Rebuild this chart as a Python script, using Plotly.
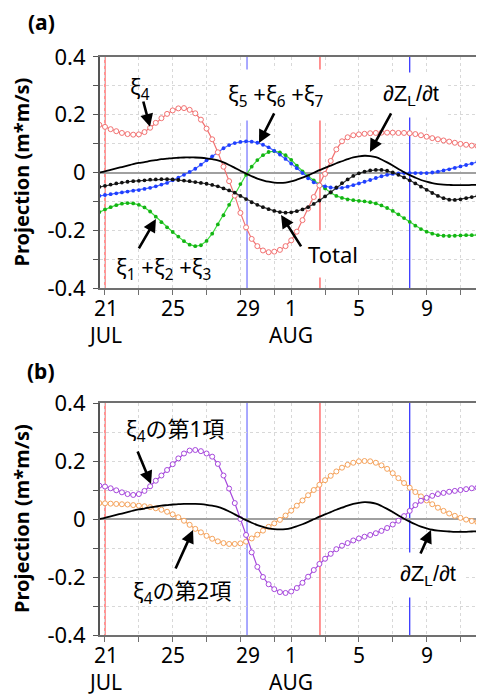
import numpy as np
import plotly.graph_objects as go

# time axis: days after 21 JUL 00:00, sampled every 8 hours
days = [round(-1/3 + k/3, 3) for k in range(69)]

xi4 = [0.165,0.158,0.150,0.143,0.137,0.133,0.131,0.132,0.140,0.155,0.172,0.188,0.203,0.215,0.222,0.223,
       0.217,0.205,0.183,0.152,0.115,0.070,0.020,-0.030,-0.080,-0.140,-0.190,-0.230,-0.255,-0.270,-0.276,
       -0.274,-0.268,-0.255,-0.235,-0.205,-0.165,-0.125,-0.085,-0.045,-0.005,0.040,0.080,0.108,0.122,0.129,
       0.132,0.134,0.136,0.137,0.138,0.138,0.138,0.137,0.137,0.136,0.133,0.129,0.124,0.119,0.115,0.111,
       0.107,0.103,0.099,0.096,0.093,0.092,0.094]
xi567 = [-0.081,-0.078,-0.075,-0.072,-0.069,-0.066,-0.063,-0.061,-0.057,-0.053,-0.048,-0.042,-0.036,-0.027,
         -0.018,-0.008,0.002,0.013,0.027,0.042,0.056,0.071,0.084,0.095,0.102,0.106,0.108,0.107,0.103,0.096,
         0.087,0.075,0.062,0.047,0.031,0.015,-0.002,-0.020,-0.034,-0.042,-0.048,-0.052,-0.054,-0.053,-0.049,
         -0.044,-0.038,-0.032,-0.026,-0.019,-0.013,-0.008,-0.005,-0.003,-0.002,-0.002,-0.002,-0.002,-0.002,
         0.000,0.003,0.007,0.011,0.016,0.021,0.026,0.031,0.037,0.042]
xi123 = [-0.137,-0.128,-0.120,-0.113,-0.108,-0.106,-0.107,-0.112,-0.121,-0.135,-0.153,-0.172,-0.190,-0.206,
         -0.222,-0.238,-0.250,-0.255,-0.252,-0.237,-0.212,-0.180,-0.148,-0.112,-0.076,-0.040,-0.008,0.020,
         0.043,0.060,0.071,0.074,0.070,0.060,0.044,0.024,0.004,-0.013,-0.027,-0.040,-0.055,-0.070,-0.081,
         -0.088,-0.093,-0.096,-0.098,-0.100,-0.103,-0.107,-0.114,-0.123,-0.133,-0.145,-0.158,-0.171,-0.184,
         -0.196,-0.205,-0.212,-0.217,-0.219,-0.220,-0.219,-0.218,-0.217,-0.217,-0.216,-0.216]
total = [-0.050,-0.046,-0.042,-0.038,-0.035,-0.032,-0.030,-0.029,-0.027,-0.025,-0.024,-0.023,-0.023,-0.024,
         -0.026,-0.028,-0.030,-0.033,-0.036,-0.039,-0.043,-0.048,-0.055,-0.062,-0.070,-0.081,-0.092,-0.103,
         -0.112,-0.120,-0.127,-0.133,-0.137,-0.139,-0.138,-0.134,-0.128,-0.120,-0.109,-0.097,-0.083,-0.068,
         -0.052,-0.037,-0.024,-0.012,-0.003,0.003,0.007,0.009,0.009,0.006,0.000,-0.008,-0.017,-0.027,-0.038,
         -0.049,-0.060,-0.071,-0.081,-0.089,-0.094,-0.095,-0.093,-0.089,-0.085,-0.081,-0.078]
dzdt = [0.000,0.004,0.009,0.014,0.019,0.024,0.029,0.033,0.036,0.040,0.043,0.046,0.048,0.050,0.051,0.052,
        0.052,0.052,0.051,0.049,0.046,0.042,0.035,0.026,0.016,0.006,-0.004,-0.013,-0.021,-0.027,-0.032,
        -0.035,-0.036,-0.035,-0.031,-0.025,-0.018,-0.010,-0.001,0.008,0.016,0.024,0.032,0.039,0.046,0.052,
        0.056,0.058,0.057,0.053,0.045,0.035,0.024,0.012,0.001,-0.009,-0.018,-0.026,-0.032,-0.037,-0.040,
        -0.042,-0.043,-0.044,-0.044,-0.044,-0.043,-0.043,-0.043]
xi4_term1 = [0.115,0.112,0.106,0.099,0.092,0.086,0.083,0.086,0.097,0.113,0.132,0.150,0.169,0.189,0.209,0.226,
             0.236,0.238,0.234,0.226,0.215,0.190,0.150,0.105,0.055,0.000,-0.055,-0.115,-0.165,-0.200,-0.225,
             -0.242,-0.252,-0.255,-0.250,-0.238,-0.220,-0.199,-0.176,-0.155,-0.137,-0.120,-0.104,-0.092,-0.083,
             -0.074,-0.067,-0.061,-0.055,-0.049,-0.041,-0.031,-0.019,-0.006,0.010,0.028,0.048,0.063,0.073,
             0.080,0.086,0.090,0.094,0.097,0.100,0.103,0.106,0.108,0.110]
xi4_term2 = [0.055,0.054,0.053,0.052,0.051,0.050,0.048,0.046,0.044,0.041,0.037,0.032,0.025,0.016,0.006,-0.006,
             -0.020,-0.034,-0.046,-0.058,-0.068,-0.077,-0.083,-0.086,-0.086,-0.084,-0.078,-0.067,-0.054,-0.040,
             -0.027,-0.015,-0.003,0.012,0.029,0.046,0.064,0.082,0.100,0.118,0.134,0.149,0.164,0.177,0.187,
             0.194,0.199,0.200,0.199,0.194,0.185,0.173,0.158,0.141,0.124,0.108,0.093,0.078,0.064,0.051,0.039,
             0.028,0.019,0.011,0.004,-0.002,-0.007,-0.011,-0.014]

x_ticks = [0, 2, 4, 6, 8, 10, 11, 13, 15, 17, 19, 21]
x_label_pos = [0, 4, 8.45, 11, 15, 19]
x_label_text = ["21<br>JUL", "25", "29", "1<br>AUG", "5", "9"]
y_ticks = [0.4, 0.2, 0, -0.2, -0.4]
y_tick_text = ["0.4", "0.2", "0", "-0.2", "-0.4"]
red_lines = [0.0, 12.7]
blue_lines = [8.39, 18.0]

FONT = "'Noto Sans', 'Noto Sans CJK JP', sans-serif"
SYM_FONT = "'Liberation Sans', 'DejaVu Sans', sans-serif"

fig = go.Figure()

def sc(y, name, color, lcolor, open_m, xa, ya, size=5):
    fig.add_trace(go.Scatter(
        x=days, y=y, name=name, mode="lines+markers", xaxis=xa, yaxis=ya,
        line=dict(color=lcolor, width=1.2),
        marker=dict(size=size, color="white" if open_m else color,
                    symbol="circle", line=dict(color=color, width=1 if open_m else 0)),
        showlegend=False))

# panel a
sc(xi123, "xi1+xi2+xi3", "#14b414", "#3ddc3d", False, "x", "y", size=3.8)
sc(xi567, "xi5+xi6+xi7", "#1f3fff", "#4a63ff", False, "x", "y", size=3.8)
sc(xi4, "xi4", "#f27272", "#f27272", True, "x", "y", size=5)
sc(total, "Total", "#111111", "#333333", False, "x", "y", size=3.8)
fig.add_trace(go.Scatter(x=days, y=dzdt, mode="lines", line=dict(color="black", width=1.8, shape="spline"),
                         xaxis="x", yaxis="y", showlegend=False))
# panel b
sc(xi4_term2, "xi4 term2", "#f5a35c", "#f5a35c", True, "x2", "y2", size=5)
sc(xi4_term1, "xi4 term1", "#a647dc", "#a647dc", True, "x2", "y2", size=5)
fig.add_trace(go.Scatter(x=days, y=dzdt, mode="lines", line=dict(color="black", width=1.8, shape="spline"),
                         xaxis="x2", yaxis="y2", showlegend=False))

xr = [-0.295, 22.39]

def xaxis(anchor):
    return dict(range=xr, anchor=anchor, automargin=False, showline=True, linecolor="#707070",
                linewidth=2, mirror=True, tickmode="array", tickvals=x_ticks, ticks="outside",
                ticklen=5, tickcolor="#707070", showticklabels=False,
                showgrid=True, gridcolor="#d8d8d8", griddash="dot", gridwidth=1, zeroline=False)

def yaxis(anchor, dom):
    return dict(range=[-0.4, 0.4], domain=dom, anchor=anchor, automargin=False, showline=True,
                linecolor="#555555", linewidth=2, tickmode="array", tickvals=y_ticks,
                ticktext=y_tick_text, ticks="outside", ticklen=5, tickcolor="#555555",
                showgrid=True, gridcolor="#d8d8d8", griddash="dot",
                zeroline=True, zerolinecolor="#a0a0a0", zerolinewidth=2,
                tickfont=dict(family=FONT, size=22, color="black"), ticklabelstandoff=3,
                minor=dict(tickmode="array", tickvals=[0.3, 0.1, -0.1, -0.3], ticks="outside", ticklen=5,
                           tickcolor="#555555", showgrid=True, gridcolor="#d8d8d8", griddash="dot"))

# the page body has an 8px margin, so the figure is sized to end at the window edge
fig.update_layout(
    width=476, height=690, margin=dict(l=92, r=0, t=0, b=0, autoexpand=False),
    paper_bgcolor="white", plot_bgcolor="white",
    xaxis=xaxis("y"), yaxis=yaxis("x", [0.5942, 0.9290]),
    xaxis2=xaxis("y2"), yaxis2=yaxis("x2", [0.0913, 0.4275]),
    font=dict(family=FONT, color="black"),
)

shapes = []
for xa, ya in (("x", "y"), ("x2", "y2")):
    for xv in red_lines:
        shapes.append(dict(type="line", xref=xa, yref=ya + " domain", x0=xv, x1=xv, y0=0, y1=1,
                           line=dict(color="#ff5a5a", width=1.3), layer="below"))
    shapes.append(dict(type="line", xref=xa, yref=ya + " domain", x0=blue_lines[0], x1=blue_lines[0],
                       y0=0, y1=1, line=dict(color="#7a7aff", width=1.3), layer="below"))
    shapes.append(dict(type="line", xref=xa, yref=ya + " domain", x0=blue_lines[1], x1=blue_lines[1],
                       y0=0, y1=1, line=dict(color="#3a3aff", width=1.3), layer="below"))
fig.update_layout(shapes=shapes)

ann = []
# x tick labels (two-line labels carry the month)
for xa, ya in (("x", "y"), ("x2", "y2")):
    for pos, txt in zip(x_label_pos, x_label_text):
        two = "<br>" in txt
        ann.append(dict(text=txt, x=pos, y=0, xref=xa, yref=ya + " domain", showarrow=False,
                        xanchor="center", yanchor="middle", yshift=-33 if two else -20,
                        font=dict(family=FONT, size=21, color="black")))

def label(text, x, y, xa, ya, bg=None, family=FONT):
    d = dict(text=text, x=x, y=y, xref=xa, yref=ya, showarrow=False, xanchor="center", yanchor="middle",
             font=dict(family=family, size=22, color="black"))
    if bg:
        d.update(bgcolor="white", borderpad=8)
    ann.append(d)

def arrow(tail, tip, xa, ya):
    ann.append(dict(text="", x=tip[0], y=tip[1], ax=tail[0], ay=tail[1], xref=xa, yref=ya,
                    axref=xa, ayref=ya, showarrow=True, arrowhead=2, arrowsize=1, arrowwidth=2.6,
                    arrowcolor="black"))

label("ξ<sub>4</sub>", 2.07, 0.293, "x", "y")
arrow((2.24, 0.251), (2.66, 0.158), "x", "y")
label("ξ<sub>5</sub> +ξ<sub>6</sub> +ξ<sub>7</sub>", 10.1, 0.268, "x", "y", bg=True)
arrow((10.04, 0.21), (9.1, 0.102), "x", "y")
label("∂Z<sub>L</sub>/∂t", 18.07, 0.268, "x", "y", bg=True, family=SYM_FONT)
arrow((16.95, 0.21), (15.65, 0.071), "x", "y")
label("Total", 13.47, -0.282, "x", "y", bg=True)
arrow((11.64, -0.261), (10.4, -0.147), "x", "y")
label("ξ<sub>1</sub> +ξ<sub>2</sub> +ξ<sub>3</sub>", 3.48, -0.331, "x", "y")
arrow((1.95, -0.268), (3.01, -0.161), "x", "y")

label("ξ<sub>4</sub>の第1項", 4.13, 0.307, "x2", "y2")
arrow((1.89, 0.238), (2.72, 0.121), "x2", "y2")
label("ξ<sub>4</sub>の第2項", 4.55, -0.252, "x2", "y2")
arrow((4.13, -0.176), (5.2, -0.038), "x2", "y2")
label("∂Z<sub>L</sub>/∂t", 19.08, -0.193, "x2", "y2", bg=True, family=SYM_FONT)
arrow((18.6, -0.124), (19.26, -0.038), "x2", "y2")

for txt, yc in (("(a)", 0.9790), ("(b)", 0.4739)):
    ann.append(dict(text="<b>" + txt + "</b>", x=-0.1536, y=yc, xref="paper", yref="paper", showarrow=False,
                    xanchor="center", yanchor="middle", font=dict(family=FONT, size=21, color="black")))
for yc in (0.7616, 0.2594):
    ann.append(dict(text="<b>Projection (m*m/s)</b>", x=-0.2057, y=yc, xref="paper", yref="paper",
                    showarrow=False, textangle=-90, xanchor="center", yanchor="middle",
                    font=dict(family=FONT, size=20, color="black")))
fig.update_layout(annotations=ann)

fig.write_html("out.html")
